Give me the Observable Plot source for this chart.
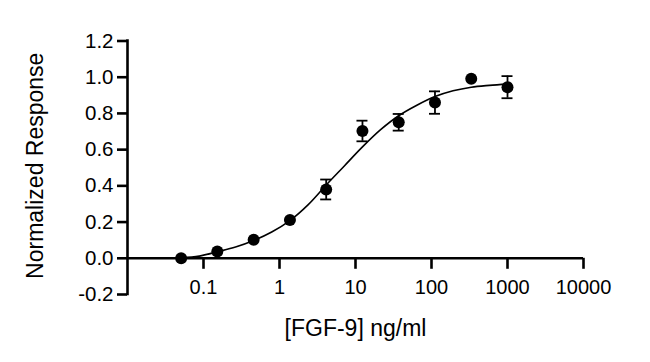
<!DOCTYPE html>
<html>
<head>
<meta charset="utf-8">
<script src="https://cdn.jsdelivr.net/npm/d3@7"></script>
<script src="https://cdn.jsdelivr.net/npm/@observablehq/plot@0.6"></script>
<style>
  html, body { margin: 0; padding: 0; background: #fff; }
  #chart svg { display: block; }
</style>
</head>
<body>
<div id="chart"></div>
<script>
// Measured concentrations (ng/ml), 3-fold dilutions
const concentrations = [0.0508, 0.152, 0.457, 1.372, 4.115, 12.35, 37.04, 111.1, 333.3, 1000];
const responses      = [0.0, 0.037, 0.102, 0.212, 0.38, 0.703, 0.751, 0.86, 0.991, 0.945];
const errors         = [0, 0, 0, 0, 0.055, 0.057, 0.046, 0.062, 0, 0.061];

// Fitted curve
const curveX = [0.0508, 0.088, 0.152, 0.264, 0.457, 0.79, 1.37, 2.37, 4.12, 7.13, 12.35, 21.4, 37.0, 64.2, 111.1, 192, 333.3, 577, 1000];
const curveY = [0.003, 0.012, 0.036, 0.062, 0.098, 0.145, 0.208, 0.295, 0.405, 0.51, 0.615, 0.71, 0.787, 0.845, 0.893, 0.925, 0.945, 0.955, 0.962];

const xTicks = [0.1, 1, 10, 100, 1000, 10000];
const xTickLabels = ["0.1", "1", "10", "100", "1000", "10000"];
const yTicks = [-0.2, 0.0, 0.2, 0.4, 0.6, 0.8, 1.0, 1.2];
const yTickLabels = ["-0.2", "0.0", "0.2", "0.4", "0.6", "0.8", "1.0", "1.2"];
const xDomain = [0.01, 10000];
const yDomain = [-0.2, 1.2];
const xTitle = "[FGF-9] ng/ml";
const yTitle = "Normalized Response";

const points = concentrations.map((c, i) => ({x: c, y: responses[i], e: errors[i]}));
const bars = points.filter(d => d.e > 0);
const curve = curveX.map((x, i) => ({x, y: curveY[i]}));
const xt = xTicks.map((v, i) => ({v, label: xTickLabels[i]}));
const yt = yTicks.map((v, i) => ({v, label: yTickLabels[i]}));

const font = "'Liberation Sans', Arial, Helvetica, sans-serif";
const axisW = 2.6;

const chart = Plot.plot({
  width: 650,
  height: 362,
  marginLeft: 127,
  marginRight: 67,
  marginTop: 40.5,
  marginBottom: 68,
  style: {fontFamily: font, background: "#fff", color: "#000"},
  x: {type: "log", domain: xDomain, axis: null},
  y: {domain: yDomain, axis: null},
  marks: [
    // y axis line
    Plot.ruleX([xDomain[0]], {y1: yDomain[0], y2: yDomain[1], stroke: "#000", strokeWidth: axisW, strokeLinecap: "square"}),
    // y ticks
    Plot.ruleY(yt, {y: "v", x1: xDomain[0], x2: xDomain[0], insetLeft: -10, stroke: "#000", strokeWidth: axisW}),
    Plot.text(yt, {x: xDomain[0], y: "v", text: "label", textAnchor: "end", dx: -14, fontSize: 20.5, fill: "#000"}),
    // x axis line at y = 0
    Plot.ruleY([0], {x1: xDomain[0], x2: xDomain[1], stroke: "#000", strokeWidth: axisW}),
    // x ticks
    Plot.ruleX(xt, {x: "v", y1: 0, y2: 0, insetBottom: -11, stroke: "#000", strokeWidth: axisW}),
    Plot.text(xt, {x: "v", y: 0, text: "label", dy: 29, fontSize: 20, fill: "#000"}),
    // axis titles
    Plot.text([xTitle], {x: 10, y: yDomain[0], text: d => d, dy: 34, fontSize: 23, fill: "#000"}),
    Plot.text([yTitle], {x: xDomain[0], y: 0.5, text: d => d, rotate: -90, dx: -92, dy: -2, fontSize: 23, fill: "#000"}),
    // fitted curve
    Plot.line(curve, {x: "x", y: "y", curve: "catmull-rom", stroke: "#000", strokeWidth: 1.6}),
    // error bars
    Plot.ruleX(bars, {x: "x", y1: d => d.y - d.e, y2: d => d.y + d.e, stroke: "#000", strokeWidth: 1.8}),
    Plot.ruleY(bars, {y: d => d.y - d.e, x1: "x", x2: "x", insetLeft: -5.5, insetRight: -5.5, stroke: "#000", strokeWidth: 1.8}),
    Plot.ruleY(bars, {y: d => d.y + d.e, x1: "x", x2: "x", insetLeft: -5.5, insetRight: -5.5, stroke: "#000", strokeWidth: 1.8}),
    // points
    Plot.dot(points, {x: "x", y: "y", r: 6, fill: "#000", stroke: "none"})
  ]
});
document.getElementById("chart").appendChild(chart);
</script>
</body>
</html>
